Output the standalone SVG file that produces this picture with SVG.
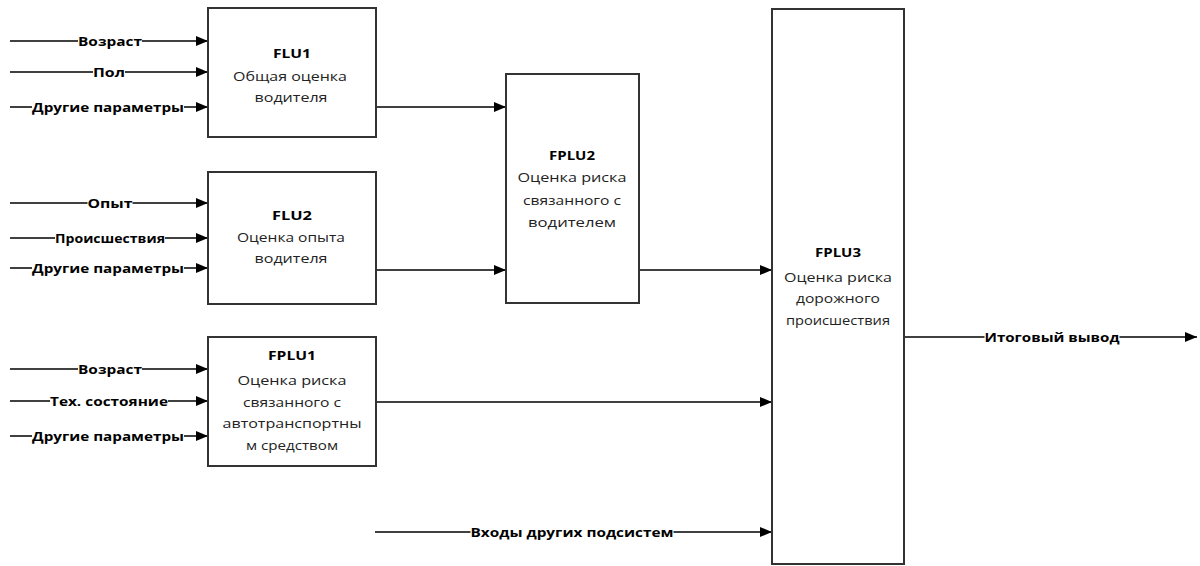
<svg xmlns="http://www.w3.org/2000/svg" width="1200" height="566" viewBox="0 0 1200 566">
<defs>
<marker id="arr" markerUnits="userSpaceOnUse" markerWidth="12" markerHeight="10" refX="12" refY="5" orient="auto">
<path d="M0,0 L12,5 L0,10 Z" fill="#000"/>
</marker>
<style>
.box{fill:#fff;stroke:#333;stroke-width:2}
.ln{stroke:#000;stroke-width:1.5;fill:none;marker-end:url(#arr)}
.bg{fill:#fff}
.lb{font-family:"Open Sans","DejaVu Sans",sans-serif;font-size:12.5px;font-weight:bold;fill:#000;text-anchor:middle}
.t{font-family:"Open Sans","DejaVu Sans",sans-serif;font-size:13px;fill:#222;text-anchor:middle}
.h{font-weight:bold;fill:#000}
</style>
</defs>
<rect width="1200" height="566" fill="#fff"/>
<g id="connectors">
<line class="ln" x1="10" y1="41" x2="208" y2="41"/>
<line class="ln" x1="10" y1="72" x2="208" y2="72"/>
<line class="ln" x1="10" y1="107" x2="208" y2="107"/>
<line class="ln" x1="10" y1="203" x2="208" y2="203"/>
<line class="ln" x1="10" y1="238" x2="208" y2="238"/>
<line class="ln" x1="10" y1="268" x2="208" y2="268"/>
<line class="ln" x1="10" y1="369" x2="208" y2="369"/>
<line class="ln" x1="10" y1="401" x2="208" y2="401"/>
<line class="ln" x1="10" y1="436" x2="208" y2="436"/>
<line class="ln" x1="376" y1="107" x2="506" y2="107"/>
<line class="ln" x1="376" y1="270" x2="506" y2="270"/>
<line class="ln" x1="639" y1="270" x2="772" y2="270"/>
<line class="ln" x1="376" y1="402" x2="772" y2="402"/>
<line class="ln" x1="375" y1="532" x2="772" y2="532"/>
<line class="ln" x1="904" y1="337" x2="1197" y2="337"/>
<rect class="bg" x="78" y="35" width="64" height="12"/>
<rect class="bg" x="93" y="66" width="32" height="12"/>
<rect class="bg" x="32" y="101" width="152" height="12"/>
<rect class="bg" x="87.5" y="197" width="45" height="12"/>
<rect class="bg" x="55" y="232" width="110" height="12"/>
<rect class="bg" x="32" y="262" width="152" height="12"/>
<rect class="bg" x="78" y="363" width="64" height="12"/>
<rect class="bg" x="50" y="395" width="118" height="12"/>
<rect class="bg" x="32" y="430" width="152" height="12"/>
<rect class="bg" x="470.5" y="526" width="203" height="12"/>
<rect class="bg" x="984.5" y="331" width="135" height="12"/>
<text class="lb" x="110" y="45.5" textLength="64" lengthAdjust="spacingAndGlyphs">Возраст</text>
<text class="lb" x="109" y="76.5" textLength="32" lengthAdjust="spacingAndGlyphs">Пол</text>
<text class="lb" x="108" y="111.5" textLength="152" lengthAdjust="spacingAndGlyphs">Другие параметры</text>
<text class="lb" x="110" y="207.5" textLength="45" lengthAdjust="spacingAndGlyphs">Опыт</text>
<text class="lb" x="110" y="242.5" textLength="110" lengthAdjust="spacingAndGlyphs">Происшествия</text>
<text class="lb" x="108" y="272.5" textLength="152" lengthAdjust="spacingAndGlyphs">Другие параметры</text>
<text class="lb" x="110" y="373.5" textLength="64" lengthAdjust="spacingAndGlyphs">Возраст</text>
<text class="lb" x="109" y="405.5" textLength="118" lengthAdjust="spacingAndGlyphs">Тех. состояние</text>
<text class="lb" x="108" y="440.5" textLength="152" lengthAdjust="spacingAndGlyphs">Другие параметры</text>
<text class="lb" x="572" y="536.5" textLength="203" lengthAdjust="spacingAndGlyphs">Входы других подсистем</text>
<text class="lb" x="1052" y="341.5" textLength="135" lengthAdjust="spacingAndGlyphs">Итоговый вывод</text>
</g>
<g id="FLU1">
<rect class="box" x="208" y="8" width="168" height="129"/>
<text class="t h" x="292" y="58" textLength="38" lengthAdjust="spacingAndGlyphs">FLU1</text>
<text class="t" x="290" y="81" textLength="114" lengthAdjust="spacingAndGlyphs">Общая оценка</text>
<text class="t" x="291" y="102" textLength="73" lengthAdjust="spacingAndGlyphs">водителя</text>
</g>
<g id="FLU2">
<rect class="box" x="208" y="172" width="168" height="132"/>
<text class="t h" x="292" y="220" textLength="40" lengthAdjust="spacingAndGlyphs">FLU2</text>
<text class="t" x="291" y="242" textLength="108" lengthAdjust="spacingAndGlyphs">Оценка опыта</text>
<text class="t" x="291" y="263" textLength="73" lengthAdjust="spacingAndGlyphs">водителя</text>
</g>
<g id="FPLU1">
<rect class="box" x="208" y="337" width="168" height="129"/>
<text class="t h" x="292" y="360" textLength="48" lengthAdjust="spacingAndGlyphs">FPLU1</text>
<text class="t" x="292" y="385" textLength="109" lengthAdjust="spacingAndGlyphs">Оценка риска</text>
<text class="t" x="292" y="407" textLength="98" lengthAdjust="spacingAndGlyphs">связанного с</text>
<text class="t" x="292" y="428" textLength="139" lengthAdjust="spacingAndGlyphs">автотранспортны</text>
<text class="t" x="292" y="450" textLength="92" lengthAdjust="spacingAndGlyphs">м средством</text>
</g>
<g id="FPLU2">
<rect class="box" x="506" y="74" width="133" height="229"/>
<text class="t h" x="572" y="160" textLength="46" lengthAdjust="spacingAndGlyphs">FPLU2</text>
<text class="t" x="572" y="182" textLength="109" lengthAdjust="spacingAndGlyphs">Оценка риска</text>
<text class="t" x="572" y="205" textLength="98" lengthAdjust="spacingAndGlyphs">связанного с</text>
<text class="t" x="572" y="227" textLength="88" lengthAdjust="spacingAndGlyphs">водителем</text>
</g>
<g id="FPLU3">
<rect class="box" x="772" y="9" width="132" height="555"/>
<text class="t h" x="838" y="257" textLength="46" lengthAdjust="spacingAndGlyphs">FPLU3</text>
<text class="t" x="838" y="282" textLength="108" lengthAdjust="spacingAndGlyphs">Оценка риска</text>
<text class="t" x="838" y="303" textLength="84" lengthAdjust="spacingAndGlyphs">дорожного</text>
<text class="t" x="838" y="325" textLength="104" lengthAdjust="spacingAndGlyphs">происшествия</text>
</g>
</svg>
